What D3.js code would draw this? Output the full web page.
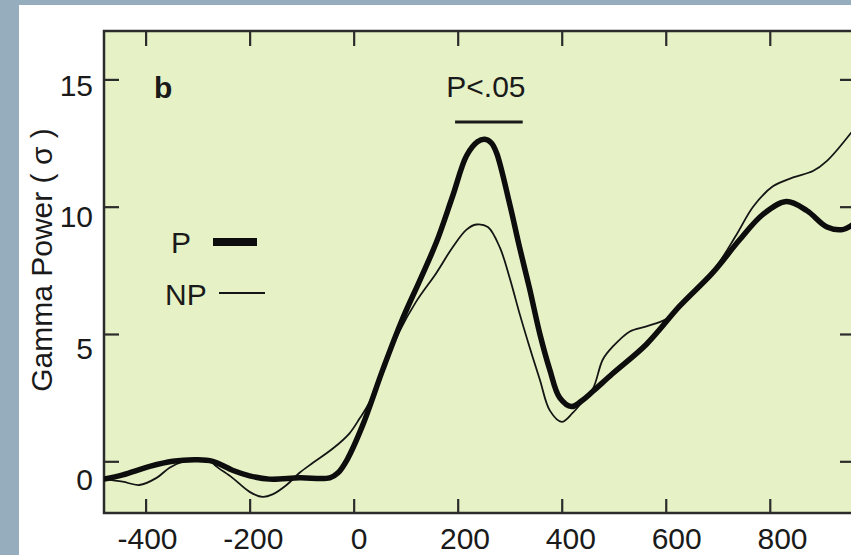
<!DOCTYPE html>
<html>
<head>
<meta charset="utf-8">
<script src="https://cdn.jsdelivr.net/npm/d3@7"></script>
<style>
  html, body { margin: 0; padding: 0; background: #96adbd; }
  svg { display: block; }
  text { font-family: "Liberation Sans", Arial, Helvetica, sans-serif; fill: #1a1a1a; }
</style>
</head>
<body>
<svg id="chart" width="851" height="555"></svg>
<script>
// Time axis (ms) and gamma power (σ) for the perceived (P) and non-perceived (NP) conditions
const pTime  = [-480, -444, -392, -348, -302, -271, -233, -200, -162, -104, -46, -30, -13, 17, 56, 92, 127, 159, 190, 217, 238, 252, 265, 275, 300, 319, 338, 358, 377, 396, 419, 440, 460, 498, 563, 627, 690, 742, 787, 832, 871, 910, 940, 960];
const pPower = [-0.7, -0.53, -0.2, 0.0, 0.06, 0.0, -0.35, -0.57, -0.7, -0.65, -0.65, -0.45, 0.05, 1.4, 3.6, 5.5, 7.1, 8.6, 10.4, 12.0, 12.55, 12.65, 12.5, 12.1, 10.1, 8.4, 6.8, 5.0, 3.6, 2.5, 2.15, 2.4, 2.75, 3.45, 4.6, 6.1, 7.4, 8.7, 9.7, 10.2, 9.85, 9.2, 9.1, 9.3];

const npTime  = [-480, -444, -412, -379, -354, -330, -300, -275, -264, -233, -200, -175, -156, -129, -104, -79, -40, -8, 12, 30, 56, 88, 121, 159, 190, 217, 236, 258, 281, 300, 319, 338, 358, 377, 400, 421, 440, 460, 479, 498, 531, 563, 602, 627, 690, 736, 768, 806, 845, 883, 910, 960];
const npPower = [-0.7, -0.8, -0.93, -0.65, -0.25, -0.02, 0.06, 0.0, -0.2, -0.65, -1.2, -1.4, -1.3, -0.93, -0.45, -0.07, 0.5, 1.1, 1.7, 2.3, 3.6, 5.1, 6.3, 7.4, 8.4, 9.1, 9.3, 9.2, 8.4, 7.2, 5.8, 4.5, 3.2, 2.0, 1.55, 1.9, 2.35, 2.85, 4.0, 4.5, 5.1, 5.3, 5.6, 6.1, 7.45, 8.9, 10.0, 10.8, 11.15, 11.4, 11.8, 13.0];

const xTicks = [-400, -200, 0, 200, 400, 600, 800];
const xTickLabels = ["-400", "-200", "0", "200", "400", "600", "800"];
const yTicks = [0, 5, 10, 15];
const yTickLabels = ["0", "5", "10", "15"];

// Significant window (ms)
const sigStart = 195, sigEnd = 325;

(function () {
const svg = d3.select("#chart");

// white figure panel
svg.append("rect").attr("x", 19).attr("y", 5).attr("width", 832).attr("height", 550).attr("fill", "#ffffff");

const pLeft = 104, pRight = 855, pTop = 31, pBottom = 513;
const x = d3.scaleLinear().domain([-480, 960]).range([pLeft, 853]);
const y = d3.scaleLinear().domain([-2.05, 16.9]).range([513.5, 31]);

// plot background
svg.append("rect").attr("x", pLeft).attr("y", pTop).attr("width", pRight - pLeft).attr("height", pBottom - pTop)
  .attr("fill", "#e6f2c6");

svg.append("clipPath").attr("id", "plotClip")
  .append("rect").attr("x", pLeft).attr("y", pTop).attr("width", pRight - pLeft).attr("height", pBottom - pTop);

const frameColor = "#2b2b2b";

// axes with inward ticks
const gB = svg.append("g").attr("transform", `translate(0,${pBottom})`)
  .call(d3.axisBottom(x).tickValues(xTicks).tickSize(-14).tickPadding(13)
    .tickFormat((d, i) => xTickLabels[i]));
const gT = svg.append("g").attr("transform", `translate(0,${pTop})`)
  .call(d3.axisTop(x).tickValues(xTicks).tickSize(-15).tickFormat(""));
const gL = svg.append("g").attr("transform", `translate(${pLeft},0)`)
  .call(d3.axisLeft(y).tickValues(yTicks).tickSize(-15).tickPadding(10)
    .tickFormat((d, i) => yTickLabels[i]));
const gR = svg.append("g").attr("transform", `translate(${pRight},0)`)
  .call(d3.axisRight(y).tickValues(yTicks).tickSize(-15).tickFormat(""));

[gB, gT, gL, gR].forEach(g => {
  g.select(".domain").remove();
  g.selectAll(".tick line").attr("stroke", frameColor).attr("stroke-width", 2.2);
  g.selectAll(".tick text").attr("font-size", 30).attr("fill", "#1a1a1a")
    .style("font-family", '"Liberation Sans", Arial, sans-serif');
});

// bottom labels sit slightly right of their ticks
gB.selectAll(".tick text").attr("dy", null).attr("y", 36).attr("dx", d => 5 + 0.009 * d);
// left labels sit a little below their ticks
gL.selectAll(".tick text").attr("dy", null).attr("x", -11).attr("y", d => 16 + (15 - d) * 0.83);

// frame
svg.append("rect").attr("x", pLeft).attr("y", pTop).attr("width", pRight - pLeft).attr("height", pBottom - pTop)
  .attr("fill", "none").attr("stroke", frameColor).attr("stroke-width", 2.5);

// curves
const line = d3.line().x(d => x(d[0])).y(d => y(d[1])).curve(d3.curveCatmullRom.alpha(0.5));
const plot = svg.append("g").attr("clip-path", "url(#plotClip)");

plot.append("path").datum(npTime.map((t, i) => [t, npPower[i]]))
  .attr("d", line).attr("fill", "none").attr("stroke", "#151515").attr("stroke-width", 1.8)
  .attr("stroke-linejoin", "round");
plot.append("path").datum(pTime.map((t, i) => [t, pPower[i]]))
  .attr("d", line).attr("fill", "none").attr("stroke", "#0d0d0d").attr("stroke-width", 5.5)
  .attr("stroke-linejoin", "round").attr("stroke-linecap", "round");

// panel letter
svg.append("text").attr("x", 154).attr("y", 98).attr("font-size", 30).attr("font-weight", "bold").text("b");

// significance marker
svg.append("text").attr("x", (x(sigStart) + x(sigEnd)) / 2 - 3).attr("y", 97).attr("font-size", 30)
  .attr("text-anchor", "middle").text("P<.05");
svg.append("line").attr("x1", x(sigStart)).attr("x2", x(sigEnd)).attr("y1", 122).attr("y2", 122)
  .attr("stroke", "#1a1a1a").attr("stroke-width", 3);

// legend
svg.append("text").attr("x", 171).attr("y", 253).attr("font-size", 30).text("P");
svg.append("line").attr("x1", 213).attr("x2", 257).attr("y1", 242).attr("y2", 242)
  .attr("stroke", "#0d0d0d").attr("stroke-width", 8);
svg.append("text").attr("x", 165).attr("y", 305).attr("font-size", 30).text("NP");
svg.append("line").attr("x1", 219).attr("x2", 265).attr("y1", 293).attr("y2", 293)
  .attr("stroke", "#151515").attr("stroke-width", 2.2);

// y-axis title
svg.append("text").attr("transform", "translate(52,260) rotate(-90)")
  .attr("text-anchor", "middle").attr("font-size", 30).text("Gamma Power ( σ )");
})();
</script>
</body>
</html>
